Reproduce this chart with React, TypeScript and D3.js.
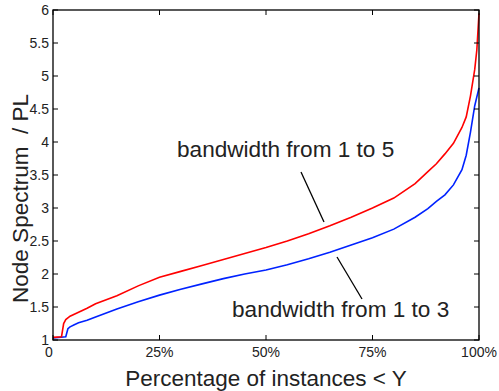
import * as d3 from 'd3'

// percentiles (% of instances) and node spectrum / PL values
const pctRed = [0, 2, 2.5, 3, 4, 5, 6, 8, 10, 15, 20, 25, 30, 35, 40, 45, 50, 55, 60, 65, 70, 75, 80, 85, 88, 90, 92, 94, 96, 97, 98, 99, 99.5, 100]
const valRed = [1.04, 1.05, 1.25, 1.31, 1.36, 1.39, 1.42, 1.48, 1.55, 1.67, 1.82, 1.95, 2.04, 2.13, 2.22, 2.31, 2.4, 2.5, 2.61, 2.73, 2.86, 3.0, 3.15, 3.37, 3.55, 3.67, 3.82, 3.98, 4.22, 4.38, 4.7, 5.1, 5.4, 5.95]

const pctBlue = [0, 3, 3.5, 4, 5, 6, 8, 10, 15, 20, 25, 30, 35, 40, 45, 50, 55, 60, 65, 70, 75, 80, 85, 88, 90, 92, 94, 96, 97, 98, 99, 100]
const valBlue = [1.03, 1.05, 1.17, 1.2, 1.23, 1.26, 1.3, 1.35, 1.47, 1.58, 1.68, 1.77, 1.85, 1.93, 2.0, 2.06, 2.14, 2.23, 2.33, 2.44, 2.55, 2.68, 2.86, 2.99, 3.1, 3.2, 3.35, 3.58, 3.8, 4.15, 4.55, 4.82]

const xTicks = [0, 25, 50, 75, 100]
const xTickLabels = ['0', '25%', '50%', '75%', '100%']
const yTicks = [1, 1.5, 2, 2.5, 3, 3.5, 4, 4.5, 5, 5.5, 6]

const font = '"Liberation Sans", Arial, Helvetica, sans-serif'

export default function App() {
  const W = 499
  const H = 391
  const left = 53, right = 479, top = 10, bottom = 340

  const x = d3.scaleLinear().domain([0, 100]).range([left, right])
  const y = d3.scaleLinear().domain([1, 6]).range([bottom, top])

  const line = d3.line<[number, number]>()
    .x(d => x(d[0]))
    .y(d => y(d[1]))

  const red = pctRed.map((p, i) => [p, valRed[i]] as [number, number])
  const blue = pctBlue.map((p, i) => [p, valBlue[i]] as [number, number])

  const tl = 5

  return (
    <svg width={W} height={H} style={{ position: 'absolute', left: 0, top: 0, background: '#fff' }}
      fontFamily={font}>
      <rect x={0} y={0} width={W} height={H} fill="#fff" />

      <path d={line(blue) || ''} fill="none" stroke="#0022ff" strokeWidth={1.6} />
      <path d={line(red) || ''} fill="none" stroke="#ff0000" strokeWidth={1.6} />

      {/* box */}
      <rect x={left} y={top} width={right - left} height={bottom - top} fill="none" stroke="#000" strokeWidth={1.3} />

      {/* y ticks */}
      {yTicks.map(t => (
        <g key={'y' + t}>
          <line x1={left} x2={left + tl} y1={y(t)} y2={y(t)} stroke="#000" strokeWidth={1} />
          <line x1={right} x2={right - tl} y1={y(t)} y2={y(t)} stroke="#000" strokeWidth={1} />
          <text x={left - 4} y={y(t)} dy="0.36em" textAnchor="end" fontSize={14} fill="#222">{t}</text>
        </g>
      ))}

      {/* x ticks */}
      {xTicks.map((t, i) => (
        <g key={'x' + t}>
          <line x1={x(t)} x2={x(t)} y1={bottom} y2={bottom - tl} stroke="#000" strokeWidth={1} />
          <line x1={x(t)} x2={x(t)} y1={top} y2={top + tl} stroke="#000" strokeWidth={1} />
          <text x={x(t)} dx={i === 0 ? -4 : 0} y={357} textAnchor="middle" fontSize={14} fill="#222">{xTickLabels[i]}</text>
        </g>
      ))}

      {/* axis labels */}
      <text x={(left + right) / 2} y={386} textAnchor="middle" fontSize={22.5} fill="#222">Percentage of instances &lt; Y</text>
      <text transform={`translate(28,${(92 + 305) / 2}) rotate(-90)`} textAnchor="middle" fontSize={22.5} fill="#222"
        style={{ whiteSpace: 'pre' }}>{'Node Spectrum  / PL'}</text>

      {/* annotations */}
      <text x={177} y={157} fontSize={22.6} fill="#222">bandwidth from 1 to 5</text>
      <line x1={301} y1={172} x2={324} y2={222} stroke="#000" strokeWidth={1.3} />
      <text x={232} y={317} fontSize={22.6} fill="#222">bandwidth from 1 to 3</text>
      <line x1={337} y1={257} x2={362} y2={299} stroke="#000" strokeWidth={1.3} />
    </svg>
  )
}
